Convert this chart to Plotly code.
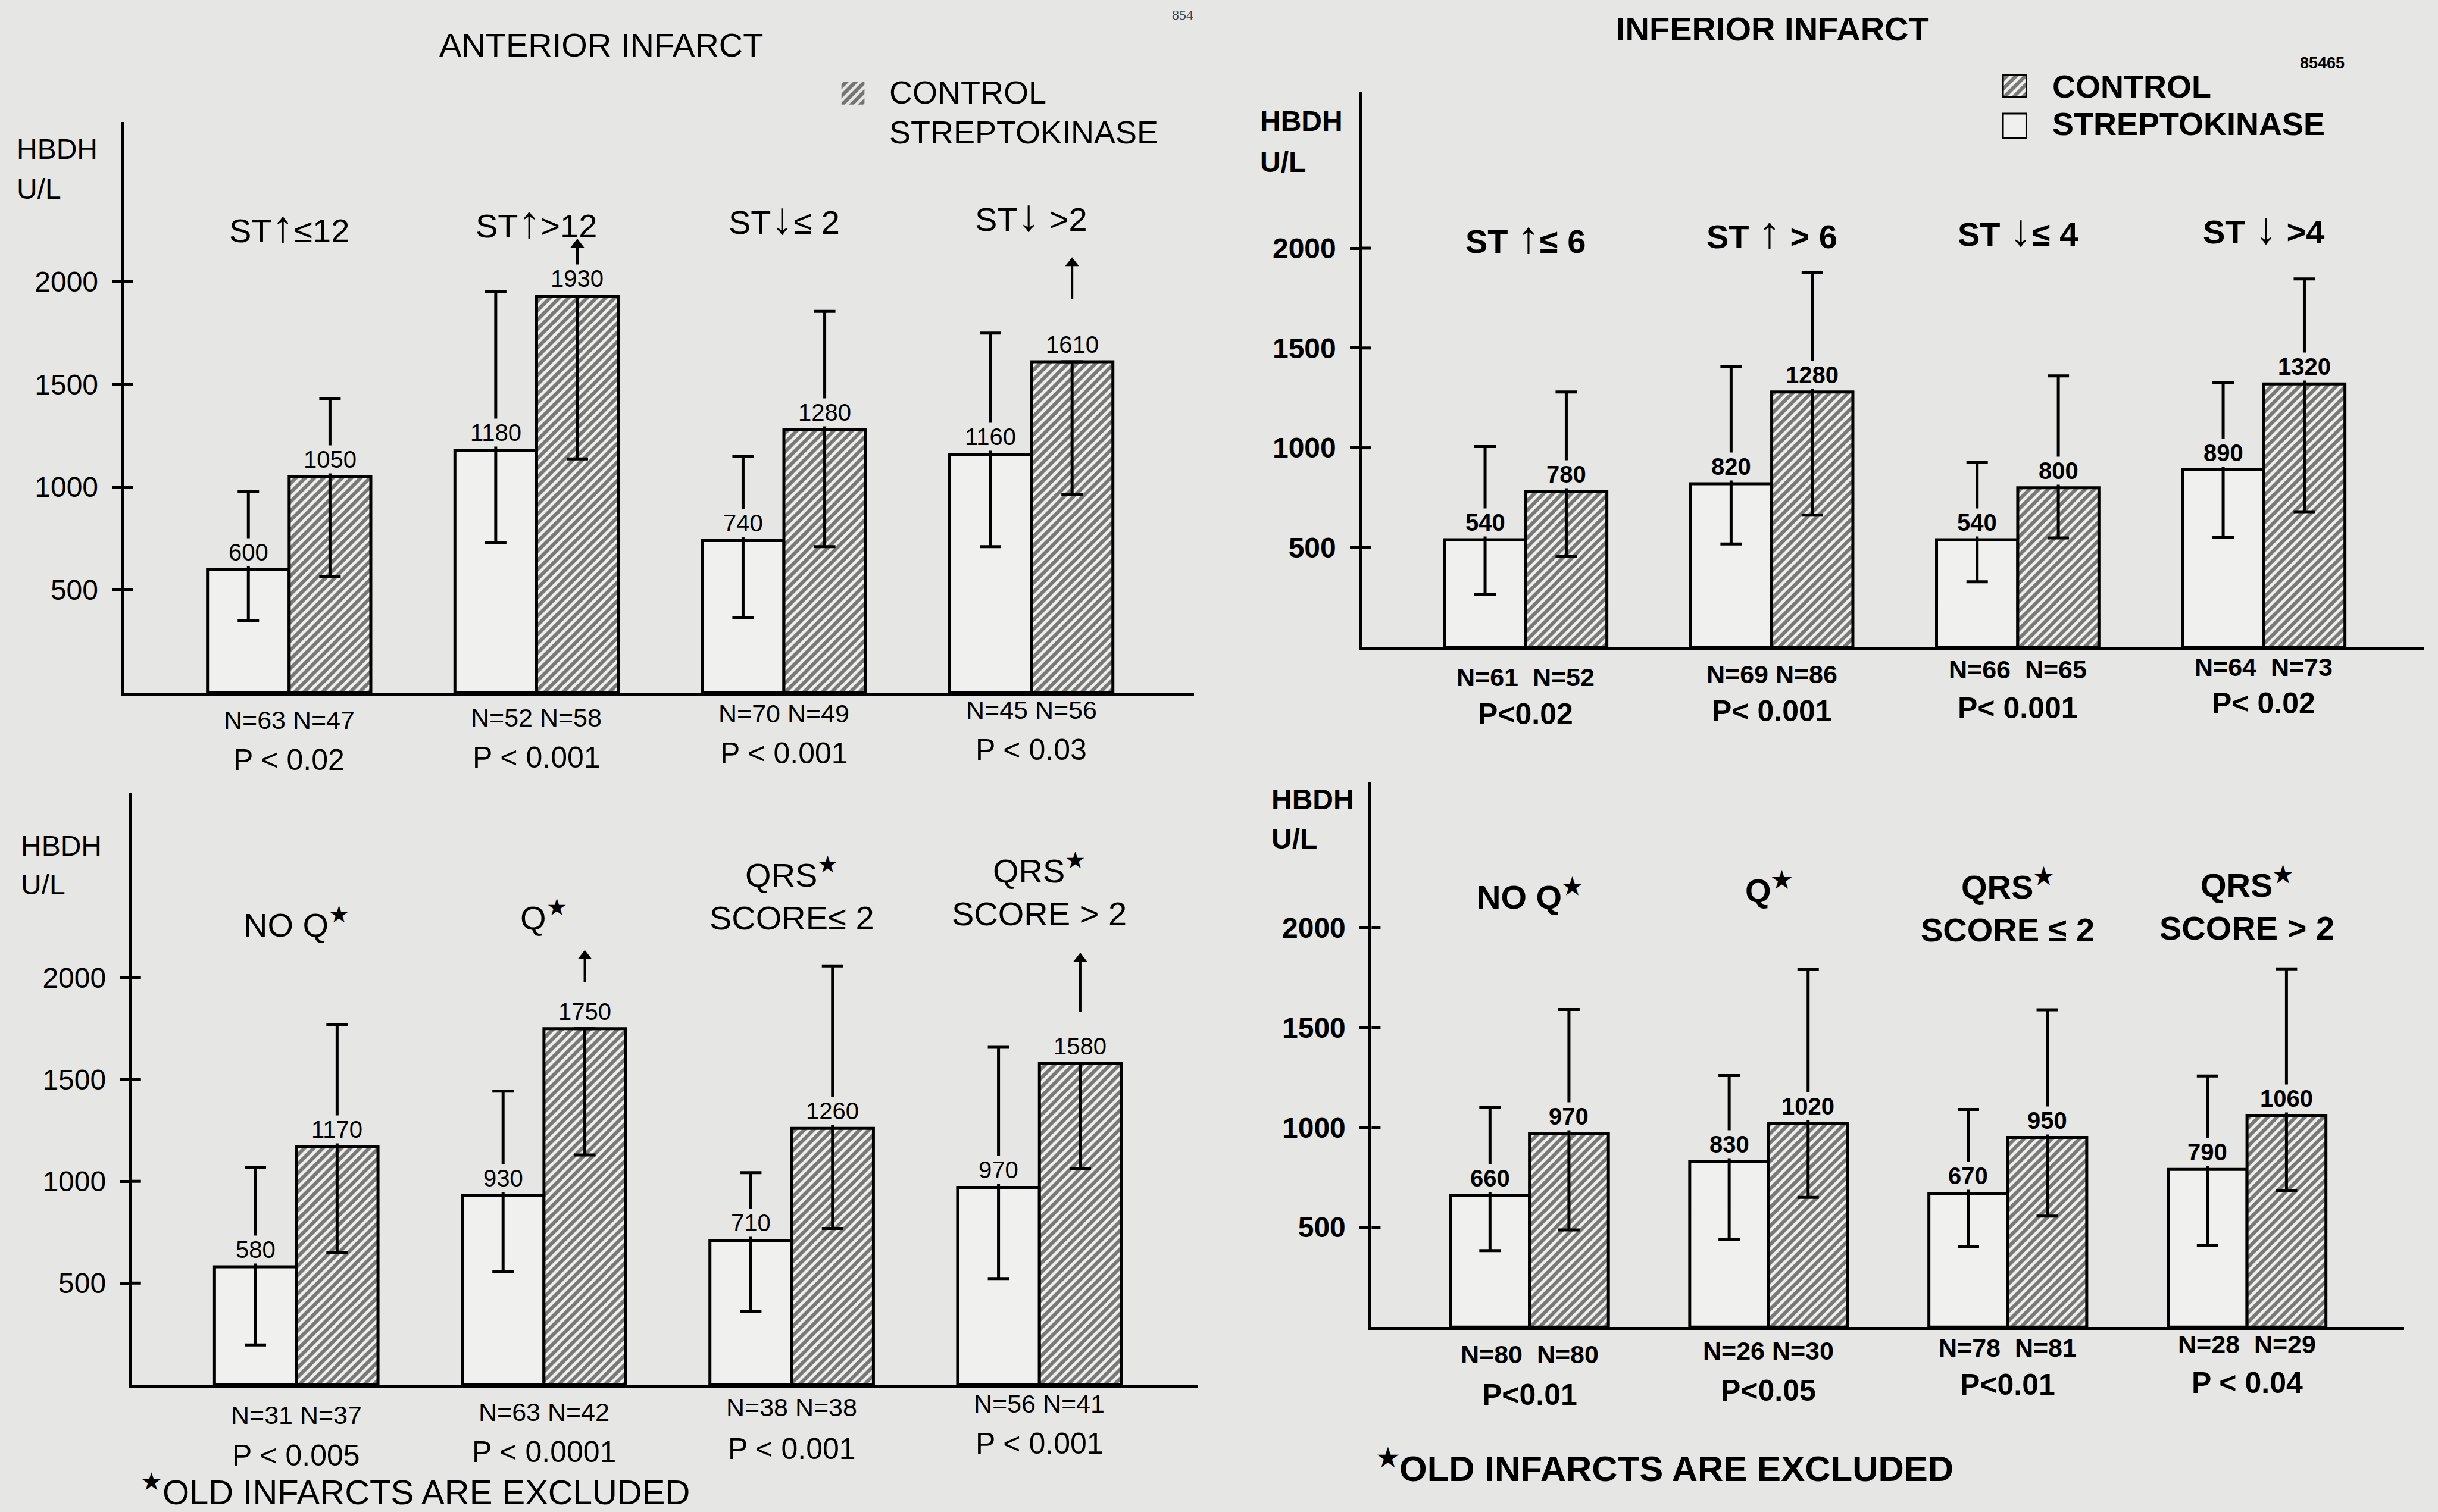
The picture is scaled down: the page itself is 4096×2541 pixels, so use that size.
import plotly.graph_objects as go

# ---------------- DATA ----------------
groups = [1, 2, 3, 4]

ARUP = '<span style="font-size:1.35em;font-weight:bold">↑</span>'
ARDN = '<span style="font-size:1.35em;font-weight:bold">↓</span>'

# Anterior infarct - ST segment groups
ant_st_labels = ["ST" + ARUP + "≤12", "ST" + ARUP + ">12", "ST" + ARDN + "≤ 2", "ST" + ARDN + " >2"]
ant_st_sk = [600, 1180, 740, 1160]
ant_st_sk_hi = [980, 1950, 1150, 1750]
ant_st_sk_lo = [350, 730, 365, 710]
ant_st_ctl = [1050, 1930, 1280, 1610]
ant_st_ctl_hi = [1430, None, 1855, None]
ant_st_ctl_lo = [565, 1137, 710, 965]
ant_st_arrow_from = [None, 2060, None, 1915]
ant_st_arrow_to = [None, 2180, None, 2090]
ant_st_n = ["N=63 N=47", "N=52 N=58", "N=70 N=49", "N=45 N=56"]
ant_st_p = ["P < 0.02", "P < 0.001", "P < 0.001", "P < 0.03"]

# Inferior infarct - ST segment groups
inf_st_labels = ["ST " + ARUP + "≤ 6", "ST " + ARUP + " > 6", "ST " + ARDN + "≤ 4", "ST " + ARDN + " >4"]
inf_st_sk = [540, 820, 540, 890]
inf_st_sk_hi = [1006, 1408, 929, 1326]
inf_st_sk_lo = [264, 518, 329, 552]
inf_st_ctl = [780, 1280, 800, 1320]
inf_st_ctl_hi = [1280, 1877, 1360, 1846]
inf_st_ctl_lo = [455, 663, 549, 680]
inf_st_arrow_from = [None, None, None, None]
inf_st_arrow_to = [None, None, None, None]
inf_st_n = ["N=61  N=52", "N=69 N=86", "N=66  N=65", "N=64  N=73"]
inf_st_p = ["P<0.02", "P< 0.001", "P< 0.001", "P< 0.02"]

# Anterior infarct - QRS groups
ant_q_labels = ["NO Q<sup>★</sup>", "Q<sup>★</sup>", "QRS<sup>★</sup><br>SCORE≤ 2", "QRS<sup>★</sup><br>SCORE > 2"]
ant_q_sk = [580, 930, 710, 970]
ant_q_sk_hi = [1068, 1443, 1042, 1658]
ant_q_sk_lo = [196, 555, 361, 522]
ant_q_ctl = [1170, 1750, 1260, 1580]
ant_q_ctl_hi = [1769, None, 2058, None]
ant_q_ctl_lo = [650, 1129, 768, 1061]
ant_q_arrow_from = [None, 1977, None, 1834]
ant_q_arrow_to = [None, 2107, None, 2094]
ant_q_n = ["N=31 N=37", "N=63 N=42", "N=38 N=38", "N=56 N=41"]
ant_q_p = ["P < 0.005", "P < 0.0001", "P < 0.001", "P < 0.001"]

# Inferior infarct - QRS groups
inf_q_labels = ["NO Q<sup>★</sup>", "Q<sup>★</sup>", "QRS<sup>★</sup><br>SCORE ≤ 2", "QRS<sup>★</sup><br>SCORE > 2"]
inf_q_sk = [660, 830, 670, 790]
inf_q_sk_hi = [1100, 1260, 1090, 1258]
inf_q_sk_lo = [383, 440, 405, 410]
inf_q_ctl = [970, 1020, 950, 1060]
inf_q_ctl_hi = [1591, 1791, 1589, 1794]
inf_q_ctl_lo = [487, 650, 556, 682]
inf_q_arrow_from = [None, None, None, None]
inf_q_arrow_to = [None, None, None, None]
inf_q_n = ["N=80  N=80", "N=26 N=30", "N=78  N=81", "N=28  N=29"]
inf_q_p = ["P<0.01", "P<0.05", "P<0.01", "P < 0.04"]

tick_vals = [500, 1000, 1500, 2000]
tick_text = ["500", "1000", "1500", "2000"]

titles = ["ANTERIOR INFARCT", "INFERIOR INFARCT"]
legend_labels = ["CONTROL", "STREPTOKINASE"]
footnote = "<sup>★</sup>OLD INFARCTS ARE EXCLUDED"

# ---------------- STYLE / LAYOUT ----------------
FONT = "Liberation Sans, Arial, Helvetica, sans-serif"
PAGE = "#e6e6e4"
FILL = "#f0f0ee"
W, H = 5615.0, 3484.0
BARGAP = 0.34
OFF = (1 - BARGAP) / 4.0
TICKIN = 15  # px inside half of crossing tick
HATCH = dict(shape="/", fgcolor="black", size=11, solidity=0.55)


def px(v):
    return v / W


def py(v):
    return 1 - v / H


datasets = [
    (ant_st_labels, ant_st_sk, ant_st_sk_hi, ant_st_sk_lo, ant_st_ctl, ant_st_ctl_hi, ant_st_ctl_lo,
     ant_st_arrow_from, ant_st_arrow_to, ant_st_n, ant_st_p),
    (inf_st_labels, inf_st_sk, inf_st_sk_hi, inf_st_sk_lo, inf_st_ctl, inf_st_ctl_hi, inf_st_ctl_lo,
     inf_st_arrow_from, inf_st_arrow_to, inf_st_n, inf_st_p),
    (ant_q_labels, ant_q_sk, ant_q_sk_hi, ant_q_sk_lo, ant_q_ctl, ant_q_ctl_hi, ant_q_ctl_lo,
     ant_q_arrow_from, ant_q_arrow_to, ant_q_n, ant_q_p),
    (inf_q_labels, inf_q_sk, inf_q_sk_hi, inf_q_sk_lo, inf_q_ctl, inf_q_ctl_hi, inf_q_ctl_lo,
     inf_q_arrow_from, inf_q_arrow_to, inf_q_n, inf_q_p),
]

# positions in reference pixel coordinates
layouts = [
    dict(xd=(286, 2750), ybase=1596, ytop=281, ymax=2777, xr=(0.333, 4.658), bold=False,
         cat_y=[522, 511, 503, 496], n_y=[1659, 1653, 1644, 1636], p_y=[1751, 1745, 1736, 1728],
         hb=(36, 344, 436)),
    dict(xd=(3137, 5582), ybase=1492, ytop=212, ymax=2782, xr=(0.335, 4.65), bold=True,
         cat_y=[547, 536, 530, 525], n_y=[1560, 1553, 1542, 1537], p_y=[1646, 1638, 1632, 1620],
         hb=(2899, 279, 374)),
    dict(xd=(304, 2759), ybase=3191, ytop=1827, ymax=2908, xr=(0.337, 4.64), bold=False,
         cat_y=[2126, 2109, 2060, 2050], n_y=[3260, 3254, 3243, 3235], p_y=[3354, 3346, 3339, 3326],
         hb=(45, 1949, 2038)),
    dict(xd=(3159, 5537), ybase=3058, ytop=1802, ymax=2730, xr=(0.34, 4.657), bold=True,
         cat_y=[2062, 2047, 2088, 2084], n_y=[3120, 3113, 3105, 3097], p_y=[3214, 3204, 3191, 3187],
         hb=(2926, 1842, 1933)),
]


def fnt(size, bold=False, color="black"):
    return dict(family=FONT, size=size, color=color, weight="bold" if bold else "normal")


fig = go.Figure()
annotations = []
shapes = []
lay = {}

for i, (data, L) in enumerate(zip(datasets, layouts), start=1):
    (cats, sk, sk_hi, sk_lo, ctl, ctl_hi, ctl_lo, a_from, a_to, nlab, plab) = data
    xa = "x" if i == 1 else f"x{i}"
    ya = "y" if i == 1 else f"y{i}"
    b = L["bold"]

    sk_plus = [h - v for h, v in zip(sk_hi, sk)]
    sk_minus = [v - l for v, l in zip(sk, sk_lo)]
    ctl_plus = [(h - v) if h is not None else 0 for h, v in zip(ctl_hi, ctl)]
    ctl_minus = [v - l for v, l in zip(ctl, ctl_lo)]

    fig.add_trace(go.Bar(
        x=groups, y=sk, xaxis=xa, yaxis=ya, name=legend_labels[1],
        marker=dict(color=FILL, line=dict(color="black", width=5)),
        error_y=dict(type="data", symmetric=False, array=sk_plus, arrayminus=sk_minus,
                     thickness=5, width=18, color="black"),
    ))
    fig.add_trace(go.Bar(
        x=groups, y=ctl, xaxis=xa, yaxis=ya, name=legend_labels[0],
        marker=dict(color=FILL, line=dict(color="black", width=5),
                    pattern=dict(HATCH, bgcolor=FILL)),
        error_y=dict(type="data", symmetric=False, array=ctl_plus, arrayminus=ctl_minus,
                     thickness=5, width=18, color="black"),
    ))
    # off-scale arrows (upper error beyond the drawing)
    for g, f, t in zip(groups, a_from, a_to):
        if f is None:
            continue
        fig.add_trace(go.Scatter(
            x=[g + OFF, g + OFF], y=[f, t], xaxis=xa, yaxis=ya, mode="lines",
            line=dict(color="black", width=4), hoverinfo="skip", showlegend=False))
        fig.add_trace(go.Scatter(
            x=[g + OFF], y=[t], xaxis=xa, yaxis=ya, mode="markers", hoverinfo="skip",
            showlegend=False,
            marker=dict(symbol="triangle-up", size=20, color="black", line=dict(width=0))))

    ydom = (py(L["ybase"]), py(L["ytop"]))
    xdom = (px(L["xd"][0]), px(L["xd"][1]))
    axis_px = (L["xd"][1] - L["xd"][0]) * 4096.0 / W
    lay["xaxis" if i == 1 else f"xaxis{i}"] = dict(
        domain=list(xdom), range=list(L["xr"]), anchor=ya,
        showline=True, linecolor="black", linewidth=5, ticks="", showticklabels=False,
        showgrid=False, zeroline=False, fixedrange=True)
    lay["yaxis" if i == 1 else f"yaxis{i}"] = dict(
        domain=list(ydom), range=[0, L["ymax"]], anchor=xa,
        showline=True, linecolor="black", linewidth=5,
        ticks="outside", ticklen=15, tickwidth=5, tickcolor="black",
        tickvals=tick_vals, ticktext=tick_text, tickfont=fnt(48, b),
        ticklabelstandoff=14, showgrid=False, zeroline=False, fixedrange=True)
    # inside half of the crossing tick marks
    for tv in tick_vals:
        shapes.append(dict(type="line", xref=f"{xa} domain", yref=ya,
                           x0=0, x1=TICKIN / axis_px, y0=tv, y1=tv,
                           line=dict(color="black", width=5), layer="above"))

    # value labels (masking error line behind them)
    for g, v in zip(groups, sk):
        annotations.append(dict(x=g - OFF, y=v, xref=xa, yref=ya, text=str(v), showarrow=False,
                                yanchor="bottom", yshift=5, bgcolor=PAGE, borderpad=1,
                                font=fnt(40, b)))
    for g, v in zip(groups, ctl):
        annotations.append(dict(x=g + OFF, y=v, xref=xa, yref=ya, text=str(v), showarrow=False,
                                yanchor="bottom", yshift=5, bgcolor=PAGE, borderpad=1,
                                font=fnt(40, b)))
    # category labels
    for g, c, cy in zip(groups, cats, L["cat_y"]):
        annotations.append(dict(x=g, y=py(cy), xref=xa, yref="paper", text=c, showarrow=False,
                                xanchor="center", yanchor="middle", font=fnt(56, b)))
    # N and P labels
    for g, n, ny in zip(groups, nlab, L["n_y"]):
        annotations.append(dict(x=g, y=py(ny), xref=xa, yref="paper", text=n, showarrow=False,
                                xanchor="center", yanchor="middle", font=fnt(43, b)))
    for g, p, pyv in zip(groups, plab, L["p_y"]):
        annotations.append(dict(x=g, y=py(pyv), xref=xa, yref="paper", text=p, showarrow=False,
                                xanchor="center", yanchor="middle", font=fnt(50, b)))
    # HBDH U/L
    hx, hy1, hy2 = L["hb"]
    annotations.append(dict(x=px(hx), y=py(hy1), xref="paper", yref="paper", text="HBDH",
                            showarrow=False, xanchor="left", yanchor="middle", font=fnt(48, b)))
    annotations.append(dict(x=px(hx), y=py(hy2), xref="paper", yref="paper", text="U/L",
                            showarrow=False, xanchor="left", yanchor="middle", font=fnt(48, b)))

# legend swatches drawn as tiny bar charts
swatches = [
    dict(ax=9, xd=(1938, 1991), yd=(189, 241), pattern=True, border=0),
    dict(ax=10, xd=(4613, 4667), yd=(173, 223), pattern=True, border=3),
    dict(ax=11, xd=(4613, 4667), yd=(262, 318), pattern=False, border=3),
]
for s in swatches:
    k = s["ax"]
    marker = dict(color=FILL if s["border"] else PAGE, line=dict(color="black", width=s["border"]))
    if s["pattern"]:
        marker["pattern"] = dict(HATCH, bgcolor=marker["color"])
    fig.add_trace(go.Bar(x=[0], y=[1], width=[1], xaxis=f"x{k}", yaxis=f"y{k}", marker=marker,
                         showlegend=False, hoverinfo="skip"))
    padx = (s["xd"][1] - s["xd"][0]) * 0.1
    pady = (s["yd"][1] - s["yd"][0]) * 0.1
    lay[f"xaxis{k}"] = dict(domain=[px(s["xd"][0] - padx), px(s["xd"][1] + padx)], range=[-0.6, 0.6],
                            anchor=f"y{k}", visible=False, fixedrange=True)
    lay[f"yaxis{k}"] = dict(domain=[py(s["yd"][1] + pady), py(s["yd"][0] - pady)], range=[-0.1, 1.1],
                            anchor=f"x{k}", visible=False, fixedrange=True)

# legend texts
leg = [
    dict(x=px(2045), y=py(212), text=legend_labels[0], font=fnt(54)),
    dict(x=px(2045), y=py(304), text=legend_labels[1], font=fnt(54)),
    dict(x=px(4724), y=py(199), text=legend_labels[0], font=fnt(54, True)),
    dict(x=px(4724), y=py(285), text=legend_labels[1], font=fnt(54, True)),
]
for a in leg:
    a.update(xref="paper", yref="paper", showarrow=False, xanchor="left", yanchor="middle")
annotations += leg

# titles, footnotes, page marks
extra = [
    dict(x=px(1384), y=py(103), text=titles[0], xanchor="center", font=fnt(56)),
    dict(x=px(4083), y=py(67), text=titles[1], xanchor="center", font=fnt(56, True)),
    dict(x=px(321), y=py(3432), text=footnote, xanchor="left", font=fnt(58)),
    dict(x=px(3168), y=py(3379), text=footnote, xanchor="left", font=fnt(60, True)),
    dict(x=px(2724), y=py(34), text="854", xanchor="center",
         font=dict(family="Liberation Serif, serif", size=24, color="#444")),
    dict(x=px(5349), y=py(145), text="85465", xanchor="center", font=fnt(27, True)),
]
for a in extra:
    a.update(xref="paper", yref="paper", showarrow=False, yanchor="middle")
annotations += extra

fig.update_layout(
    width=4096, height=2541, margin=dict(l=0, r=0, t=0, b=0),
    paper_bgcolor=PAGE, plot_bgcolor=PAGE, showlegend=False,
    barmode="group", bargap=BARGAP, bargroupgap=0,
    annotations=annotations, shapes=shapes, font=dict(family=FONT, color="black"),
    **lay,
)

fig.write_html("out.html", config={"displayModeBar": False},
               post_script="document.body.style.margin='0';document.body.style.overflow='hidden';")
